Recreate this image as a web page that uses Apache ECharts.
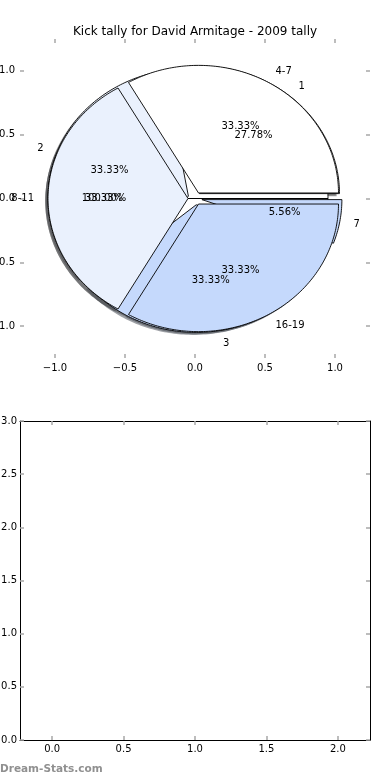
<!DOCTYPE html>
<html><head><meta charset="utf-8">
<script src="https://cdn.jsdelivr.net/npm/echarts@6/dist/echarts.min.js"></script>
<style>html,body{margin:0;padding:0;background:#fff}#c{width:390px;height:780px}</style>
</head><body><div id="c"></div>
<script>
const titleText = 'Kick tally for David Armitage - 2009 tally';
const watermarkText = 'Dream-Stats.com';
// three overlaid pies (drawn bottom to top: pie3, pie2, pie1)
const pie1Labels = ['4-7', '8-11', '16-19'];
const pie1Values = [1, 1, 1];
const pie2Labels = ['1', '2', '3', '7'];
const pie2Values = [5, 6, 6, 1];
const pie3Labels = [''];
const pie3Values = [1];
const pieTicks = [-1.0, -0.5, 0.0, 0.5, 1.0];
const lowerXTicks = [0.0, 0.5, 1.0, 1.5, 2.0];

const palette = ['#ffffff', '#eaf1fd', '#c5d9fc', '#c5d9fc'];
const EXPLODE = 0.05, PCT = 0.6, LBL = 1.1, SH = 0.02;
const FONT = 'DejaVu Sans';

function buildPie(values, labels) {
  const total = values.reduce((a, b) => a + b, 0);
  let t1 = 0; const out = [];
  values.forEach((v, i) => {
    const t2 = t1 + 360 * v / total;
    const mid = (t1 + t2) / 2 * Math.PI / 180;
    out.push({t1, t2, mid, cx: EXPLODE * Math.cos(mid), cy: EXPLODE * Math.sin(mid),
      color: palette[i % palette.length], label: labels[i],
      pct: (100 * v / total).toFixed(2) + '%'});
    t1 = t2;
  });
  return out;
}
const wedges = [].concat(buildPie(pie3Values, pie3Labels), buildPie(pie2Values, pie2Labels), buildPie(pie1Values, pie1Labels));

function wedgePts(w, dx, dy, api) {
  const pts = [api.coord([w.cx + dx, w.cy + dy])];
  const n = Math.max(2, Math.ceil((w.t2 - w.t1)));
  for (let k = 0; k <= n; k++) {
    const a = (w.t1 + (w.t2 - w.t1) * k / n) * Math.PI / 180;
    pts.push(api.coord([w.cx + dx + Math.cos(a), w.cy + dy + Math.sin(a)]));
  }
  return pts;
}
function shadowColor(hex) {
  const r = parseInt(hex.slice(1, 3), 16), g = parseInt(hex.slice(3, 5), 16), b = parseInt(hex.slice(5, 7), 16);
  return 'rgba(' + Math.round(r * 0.3) + ',' + Math.round(g * 0.3) + ',' + Math.round(b * 0.3) + ',0.5)';
}
const texts = [];
wedges.forEach(w => {
  const lx = w.cx + LBL * Math.cos(w.mid), ly = w.cy + LBL * Math.sin(w.mid);
  if (w.label) texts.push({x: lx, y: ly, text: w.label, align: lx > 0 ? 'left' : 'right'});
  texts.push({x: w.cx + PCT * Math.cos(w.mid), y: w.cy + PCT * Math.sin(w.mid), text: w.pct, align: 'center'});
});

const fmt = v => (v < 0 ? '\u2212' : '') + Math.abs(v).toFixed(1);
const tickStyle = {show: true, inside: true, length: 4, lineStyle: {color: '#a8a8a8', width: 1.5}};
const lbl = {color: '#000', fontFamily: FONT, fontSize: 10, formatter: fmt};
const hiddenLine = {show: true, onZero: false, lineStyle: {color: 'rgba(0,0,0,0)', width: 1}};
const frameLine = {show: true, onZero: false, lineStyle: {color: '#000', width: 1}};

const chart = echarts.init(document.getElementById('c'), null, {renderer: 'canvas'});
chart.setOption({
  animation: false,
  backgroundColor: '#fff',
  title: {text: titleText, left: 'center', top: 21, textStyle: {fontFamily: FONT, fontSize: 12, fontWeight: 'normal', color: '#000'}},
  graphic: [{type: 'text', left: 0, top: 764, style: {text: watermarkText, font: 'bold 10.5px "DejaVu Sans"', fill: '#909090'}}],
  grid: [
    {left: 20, top: 39, width: 350, height: 319, outerBoundsMode: 'none', containLabel: false},
    {left: 20, top: 421, width: 350, height: 319, outerBoundsMode: 'none', containLabel: false}
  ],
  xAxis: [
    {gridIndex: 0, type: 'value', position: 'bottom', min: -1.25, max: 1.25, axisLine: hiddenLine, splitLine: {show: false},
      axisTick: Object.assign({customValues: pieTicks}, tickStyle), axisLabel: Object.assign({customValues: pieTicks, margin: 5}, lbl)},
    {gridIndex: 0, type: 'value', position: 'top', min: -1.25, max: 1.25, axisLine: hiddenLine, splitLine: {show: false},
      axisTick: Object.assign({customValues: pieTicks}, tickStyle), axisLabel: {show: false}},
    {gridIndex: 1, type: 'value', position: 'bottom', min: -0.225, max: 2.225, axisLine: frameLine, splitLine: {show: false},
      axisTick: Object.assign({customValues: lowerXTicks}, tickStyle), axisLabel: Object.assign({customValues: lowerXTicks, margin: 4}, lbl)},
    {gridIndex: 1, type: 'value', position: 'top', min: -0.225, max: 2.225, axisLine: frameLine, splitLine: {show: false},
      axisTick: Object.assign({customValues: lowerXTicks}, tickStyle), axisLabel: {show: false}}
  ],
  yAxis: [
    {gridIndex: 0, type: 'value', position: 'left', min: -1.25, max: 1.25, axisLine: hiddenLine, splitLine: {show: false},
      axisTick: Object.assign({customValues: pieTicks}, tickStyle), axisLabel: Object.assign({customValues: pieTicks, margin: 5}, lbl)},
    {gridIndex: 0, type: 'value', position: 'right', min: -1.25, max: 1.25, axisLine: hiddenLine, splitLine: {show: false},
      axisTick: Object.assign({customValues: pieTicks}, tickStyle), axisLabel: {show: false}},
    {gridIndex: 1, type: 'value', position: 'left', min: 0, max: 3, interval: 0.5, axisLine: frameLine, splitLine: {show: false},
      axisTick: tickStyle, axisLabel: Object.assign({margin: 3}, lbl)},
    {gridIndex: 1, type: 'value', position: 'right', min: 0, max: 3, interval: 0.5, axisLine: frameLine, splitLine: {show: false},
      axisTick: tickStyle, axisLabel: {show: false}}
  ],
  series: [
    {type: 'custom', xAxisIndex: 0, yAxisIndex: 0, z: 1, clip: false,
      data: wedges.map(w => [w.cx, w.cy]),
      renderItem: (p, api) => {
        const w = wedges[p.dataIndex];
        return {type: 'polygon', shape: {points: wedgePts(w, -SH, -SH, api)}, style: {fill: shadowColor(w.color), stroke: null}};
      }},
    {type: 'custom', xAxisIndex: 0, yAxisIndex: 0, z: 2, clip: false,
      data: wedges.map(w => [w.cx, w.cy]),
      renderItem: (p, api) => {
        const w = wedges[p.dataIndex];
        return {type: 'polygon', shape: {points: wedgePts(w, 0, 0, api)}, style: {fill: w.color, stroke: '#000', lineWidth: 0.9}};
      }},
    {type: 'custom', xAxisIndex: 0, yAxisIndex: 0, z: 3, clip: false,
      data: texts.map(t => [t.x, t.y]),
      renderItem: (p, api) => {
        const t = texts[p.dataIndex];
        const c = api.coord([t.x, t.y]);
        return {type: 'text', style: {text: t.text, x: c[0], y: c[1], align: t.align, verticalAlign: 'middle', font: '10px "DejaVu Sans"', fill: '#000'}};
      }}
  ]
});
</script></body></html>
